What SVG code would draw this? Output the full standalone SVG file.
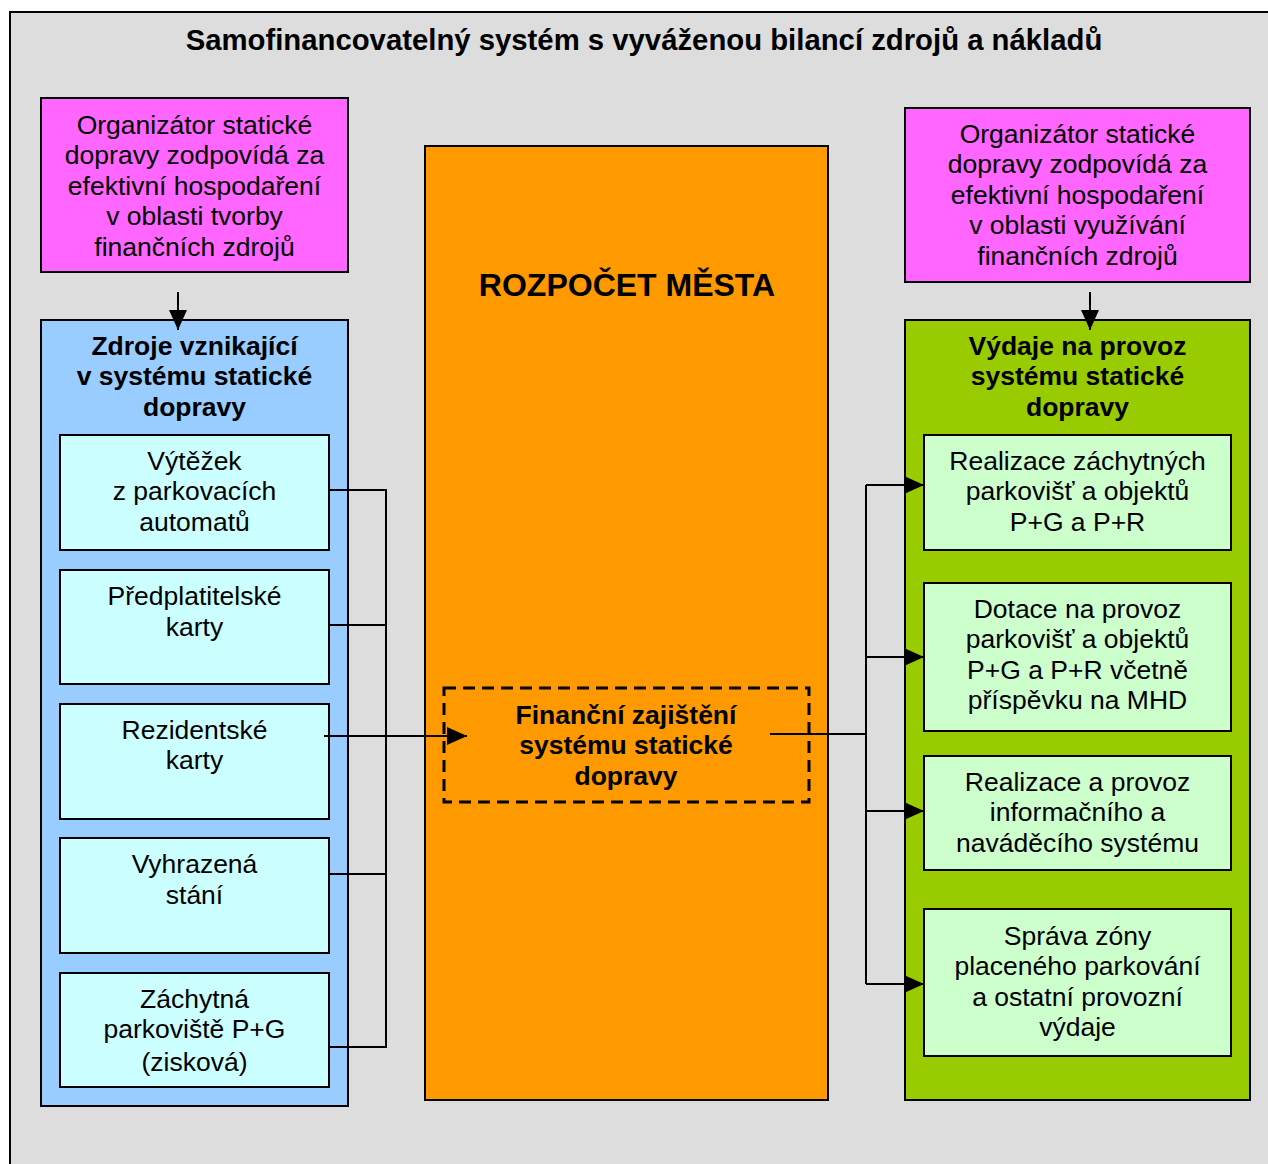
<svg xmlns="http://www.w3.org/2000/svg" width="1268" height="1164" viewBox="0 0 1268 1164">
<defs>
<style>
.box{stroke:#000;stroke-width:2}
.t{font-family:"Liberation Sans",Arial,sans-serif;font-size:26.5px;fill:#000;text-anchor:middle}
.b{font-weight:bold}
.c{fill:none;stroke:#000;stroke-width:2}
</style>
<marker id="ah" markerUnits="userSpaceOnUse" markerWidth="20" markerHeight="20" viewBox="0 0 20 20" refX="20" refY="10" orient="auto">
<path d="M0,1 L20,10 L0,19 Z" fill="#000"/>
</marker>
</defs>
<rect x="0" y="0" width="1268" height="1164" fill="#fff"/>
<g id="frame">
<rect x="10" y="12" width="1300" height="1200" fill="#DDDDDD" class="box"/>
<text class="t b" x="644" y="50" style="font-size:29.3px">Samofinancovatelný systém s vyváženou bilancí zdrojů a nákladů</text>
</g>
<g id="pinkLeft">
<rect x="41" y="98" width="307" height="174" fill="#FF66FF" class="box"/>
<text class="t" x="194.5" y="133.5">Organizátor statické</text>
<text class="t" x="194.5" y="164">dopravy zodpovídá za</text>
<text class="t" x="194.5" y="194.5">efektivní hospodaření</text>
<text class="t" x="194.5" y="225">v oblasti tvorby</text>
<text class="t" x="194.5" y="255.5">finančních zdrojů</text>
</g>
<g id="pinkRight">
<rect x="905" y="108" width="345" height="174" fill="#FF66FF" class="box"/>
<text class="t" x="1077.5" y="142.5">Organizátor statické</text>
<text class="t" x="1077.5" y="173">dopravy zodpovídá za</text>
<text class="t" x="1077.5" y="203.5">efektivní hospodaření</text>
<text class="t" x="1077.5" y="234">v oblasti využívání</text>
<text class="t" x="1077.5" y="264.5">finančních zdrojů</text>
</g>
<g id="zdroje">
<rect x="41" y="320" width="307" height="786" fill="#99CCFF" class="box"/>
<text class="t b" x="194.5" y="354.5">Zdroje vznikající</text>
<text class="t b" x="194.5" y="385">v systému statické</text>
<text class="t b" x="194.5" y="415.5">dopravy</text>
</g>
<g id="vytezek">
<rect x="60" y="435" width="269" height="115" fill="#CCFFFF" class="box"/>
<text class="t" x="194.5" y="469.5">Výtěžek</text>
<text class="t" x="194.5" y="500">z parkovacích</text>
<text class="t" x="194.5" y="530.5">automatů</text>
</g>
<g id="predplatitelske">
<rect x="60" y="570" width="269" height="114" fill="#CCFFFF" class="box"/>
<text class="t" x="194.5" y="605">Předplatitelské</text>
<text class="t" x="194.5" y="635.5">karty</text>
</g>
<g id="rezidentske">
<rect x="60" y="704" width="269" height="115" fill="#CCFFFF" class="box"/>
<text class="t" x="194.5" y="738.5">Rezidentské</text>
<text class="t" x="194.5" y="769">karty</text>
</g>
<g id="vyhrazena">
<rect x="60" y="838" width="269" height="115" fill="#CCFFFF" class="box"/>
<text class="t" x="194.5" y="873">Vyhrazená</text>
<text class="t" x="194.5" y="903.5">stání</text>
</g>
<g id="zachytna">
<rect x="60" y="973" width="269" height="114" fill="#CCFFFF" class="box"/>
<text class="t" x="194.5" y="1007.5">Záchytná</text>
<text class="t" x="194.5" y="1038">parkoviště P+G</text>
<text class="t" x="194.5" y="1071">(zisková)</text>
</g>
<g id="rozpocet">
<rect x="425" y="146" width="403" height="954" fill="#FF9900" class="box"/>
<text class="t b" x="627" y="296" style="font-size:32px">ROZPOČET MĚSTA</text>
</g>
<g id="financni">
<rect x="444" y="688" width="365" height="114" fill="none" stroke="#000" stroke-width="3" stroke-dasharray="12,7"/>
<text class="t b" x="626" y="723.5">Finanční zajištění</text>
<text class="t b" x="626" y="754">systému statické</text>
<text class="t b" x="626" y="784.5">dopravy</text>
</g>
<g id="vydaje">
<rect x="905" y="320" width="345" height="780" fill="#99CC00" class="box"/>
<text class="t b" x="1077.5" y="354.5">Výdaje na provoz</text>
<text class="t b" x="1077.5" y="385">systému statické</text>
<text class="t b" x="1077.5" y="416">dopravy</text>
</g>
<g id="realizaceZach">
<rect x="924" y="435" width="307" height="115" fill="#CCFFCC" class="box"/>
<text class="t" x="1077.5" y="469.5">Realizace záchytných</text>
<text class="t" x="1077.5" y="500">parkovišť a objektů</text>
<text class="t" x="1077.5" y="530.5">P+G a P+R</text>
</g>
<g id="dotace">
<rect x="924" y="583" width="307" height="148" fill="#CCFFCC" class="box"/>
<text class="t" x="1077.5" y="617.5">Dotace na provoz</text>
<text class="t" x="1077.5" y="648">parkovišť a objektů</text>
<text class="t" x="1077.5" y="678.5">P+G a P+R včetně</text>
<text class="t" x="1077.5" y="709">příspěvku na MHD</text>
</g>
<g id="informacni">
<rect x="924" y="756" width="307" height="114" fill="#CCFFCC" class="box"/>
<text class="t" x="1077.5" y="790.5">Realizace a provoz</text>
<text class="t" x="1077.5" y="821">informačního a</text>
<text class="t" x="1077.5" y="851.5">naváděcího systému</text>
</g>
<g id="sprava">
<rect x="924" y="909" width="307" height="147" fill="#CCFFCC" class="box"/>
<text class="t" x="1077.5" y="944.5">Správa zóny</text>
<text class="t" x="1077.5" y="975">placeného parkování</text>
<text class="t" x="1077.5" y="1005.5">a ostatní provozní</text>
<text class="t" x="1077.5" y="1036">výdaje</text>
</g>
<g id="connectors">
<line class="c" x1="178" y1="292" x2="178" y2="330" marker-end="url(#ah)"/>
<line class="c" x1="1090" y1="292" x2="1090" y2="330" marker-end="url(#ah)"/>
<polyline class="c" points="329,490 386,490 386,1047 329,1047"/>
<line class="c" x1="329" y1="625" x2="386" y2="625"/>
<line class="c" x1="329" y1="874" x2="386" y2="874"/>
<line class="c" x1="324" y1="736" x2="467" y2="736" marker-end="url(#ah)"/>
<line class="c" x1="770" y1="734" x2="866" y2="734"/>
<line class="c" x1="866" y1="485" x2="866" y2="984"/>
<line class="c" x1="866" y1="485" x2="924" y2="485" marker-end="url(#ah)"/>
<line class="c" x1="866" y1="657" x2="924" y2="657" marker-end="url(#ah)"/>
<line class="c" x1="866" y1="811" x2="924" y2="811" marker-end="url(#ah)"/>
<line class="c" x1="866" y1="984" x2="924" y2="984" marker-end="url(#ah)"/>
</g>
</svg>
